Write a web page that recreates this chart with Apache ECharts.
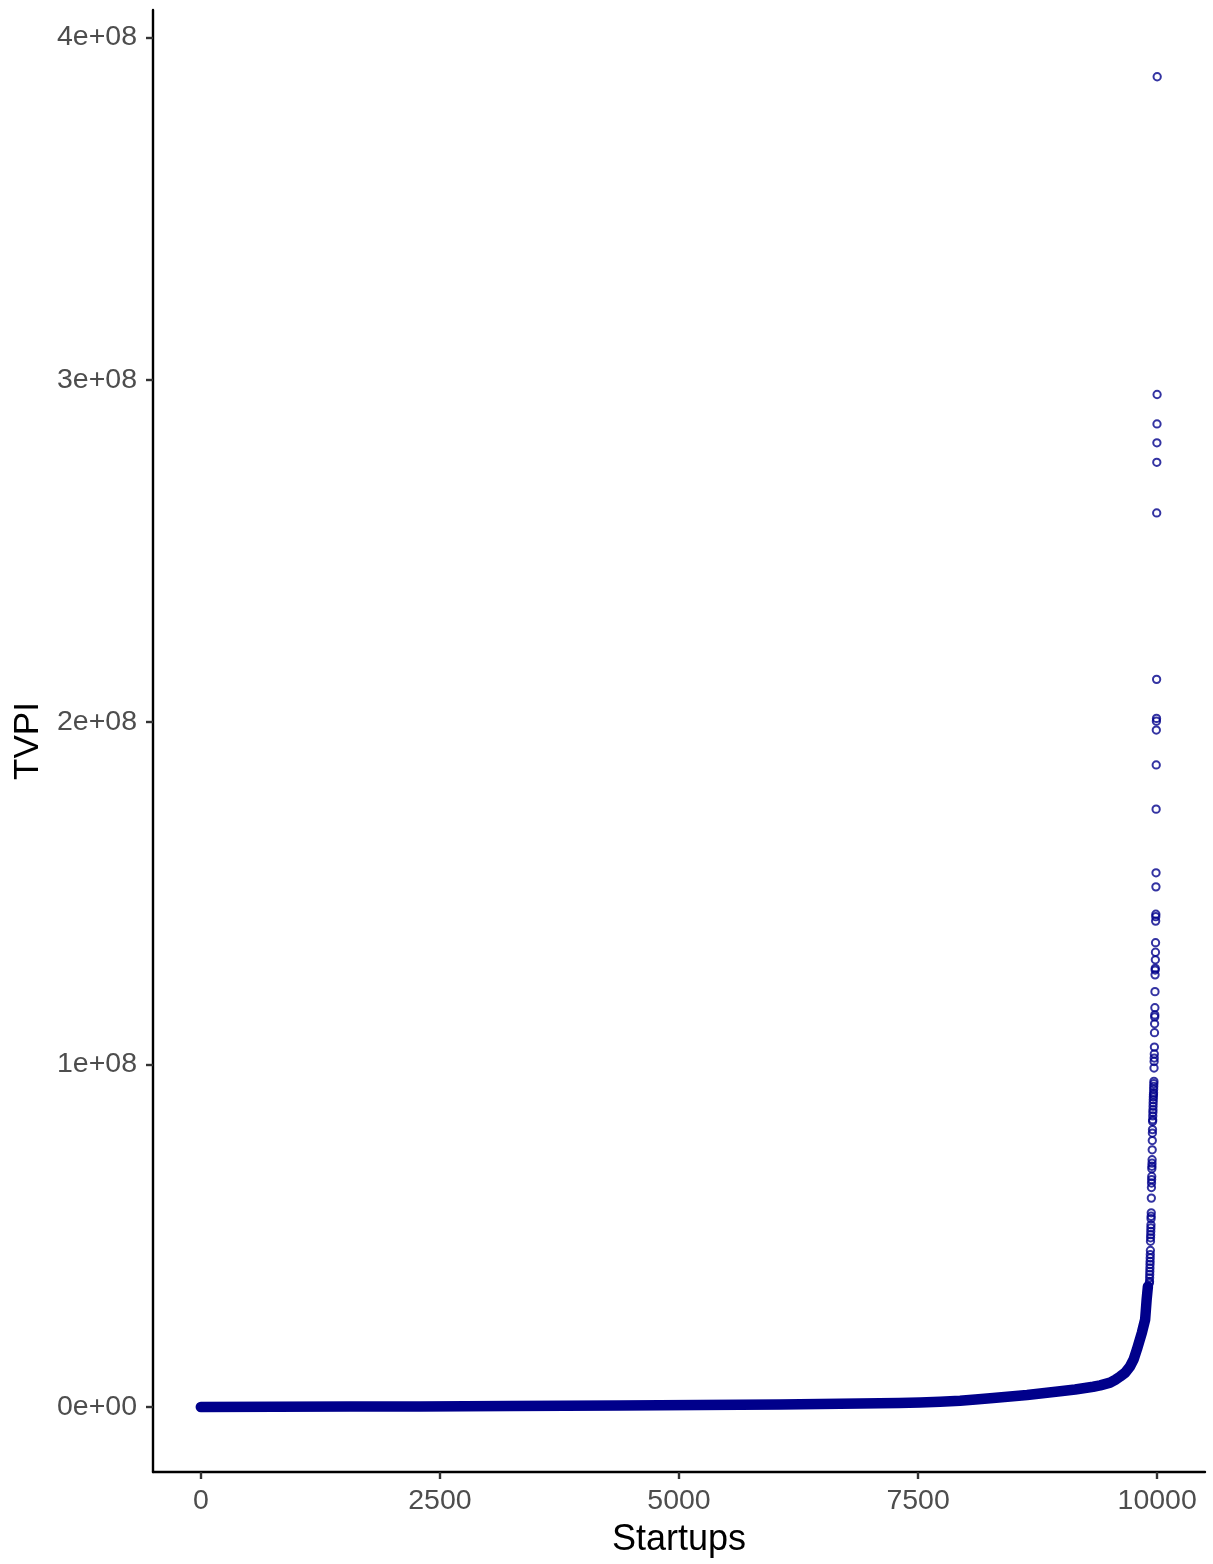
<!DOCTYPE html>
<html>
<head>
<meta charset="utf-8">
<script src="https://cdn.jsdelivr.net/npm/echarts@6/dist/echarts.min.js"></script>
<style>
html,body{margin:0;padding:0;background:#fff;}
#chart{width:1213px;height:1564px;}
</style>
</head>
<body>
<div id="chart"></div>
<script>
// Dense lower part of the sorted TVPI curve
const bandRank = [0, 1559, 2291, 3232, 4383, 5220, 6056, 6893, 7300, 7521, 7730, 7939, 8100, 8285, 8640, 8985, 9142, 9331, 9404, 9508, 9561, 9613, 9665, 9718, 9754, 9788, 9840, 9874, 9890, 9903];
const bandTVPI = [0, 1.0e5, 1.5e5, 3.0e5, 4.4e5, 5.8e5, 7.3e5, 1.0e6, 1.15e6, 1.3e6, 1.5e6, 1.8e6, 2.15e6, 2.6e6, 3.5e6, 4.6e6, 5.1e6, 5.9e6, 6.3e6, 7.1e6, 7.9e6, 8.9e6, 1.0e7, 1.19e7, 1.39e7, 1.68e7, 2.17e7, 2.55e7, 3.14e7, 3.52e7];

// Individually visible startups at the top of the distribution
const topRank = [10000, 9999, 9998, 9997, 9996, 9995, 9994, 9993, 9992, 9991,
  9990, 9989, 9988, 9987, 9986, 9985, 9984, 9983, 9982, 9981,
  9980, 9979, 9978, 9977, 9976, 9975, 9974, 9973, 9972, 9971,
  9970, 9969, 9968, 9967, 9966, 9965, 9964, 9963, 9962, 9961,
  9960, 9959, 9958, 9957, 9956, 9955, 9954, 9953, 9952, 9951,
  9950, 9949, 9948, 9947, 9946, 9945, 9944, 9943, 9942, 9941,
  9940, 9939, 9938, 9937, 9936, 9935, 9934, 9933, 9932, 9931,
  9930, 9929, 9928, 9927, 9926, 9925, 9924, 9923, 9922, 9921,
  9920, 9919];
const topTVPI = [3.885e8, 2.957e8, 2.871e8, 2.816e8, 2.759e8, 2.611e8, 2.125e8, 2.011e8, 2.003e8, 1.977e8,
  1.875e8, 1.746e8, 1.560e8, 1.519e8, 1.439e8, 1.432e8, 1.419e8, 1.356e8, 1.328e8, 1.306e8,
  1.281e8, 1.276e8, 1.262e8, 1.213e8, 1.166e8, 1.145e8, 1.139e8, 1.119e8, 1.093e8, 1.051e8,
  1.031e8, 1.019e8, 1.009e8, 0.990e8, 0.951e8, 0.944e8, 0.936e8, 0.928e8, 0.918e8, 0.912e8,
  0.905e8, 0.897e8, 0.888e8, 0.878e8, 0.868e8, 0.860e8, 0.850e8, 0.839e8, 0.834e8, 0.810e8,
  0.800e8, 0.778e8, 0.751e8, 0.722e8, 0.712e8, 0.703e8, 0.696e8, 0.673e8, 0.664e8, 0.654e8,
  0.641e8, 0.610e8, 0.567e8, 0.557e8, 0.550e8, 0.532e8, 0.523e8, 0.513e8, 0.503e8, 0.494e8,
  0.484e8, 0.457e8, 0.445e8, 0.435e8, 0.425e8, 0.416e8, 0.406e8, 0.396e8, 0.387e8, 0.377e8,
  0.367e8, 0.362e8];

const xTicks = [0, 2500, 5000, 7500, 10000];
const xTickLabels = ['0', '2500', '5000', '7500', '10000'];
const yTicks = [0, 1e8, 2e8, 3e8, 4e8];
const yTickLabels = ['0e+00', '1e+08', '2e+08', '3e+08', '4e+08'];

const FONT = '"Liberation Sans", Arial, Helvetica, sans-serif';
const chart = echarts.init(document.getElementById('chart'), null, {renderer: 'canvas'});

const bandData = bandRank.map((r, i) => [r, bandTVPI[i]]);
const topData = topRank.map((r, i) => [r, topTVPI[i]]);

function labelFor(ticks, labels) {
  return function (v) {
    for (let i = 0; i < ticks.length; i++) {
      if (Math.abs(ticks[i] - v) < 1e-6 * Math.max(1, Math.abs(v))) return labels[i];
    }
    return '';
  };
}

chart.setOption({
  animation: false,
  backgroundColor: '#ffffff',
  grid: {left: 153, right: 8, top: 10, bottom: 92, containLabel: false},
  xAxis: {
    type: 'value', min: -500, max: 10500,
    name: 'Startups', nameLocation: 'middle', nameGap: 50,
    nameTextStyle: {fontSize: 36, color: '#000000', fontFamily: FONT},
    axisLine: {show: true, onZero: false, lineStyle: {color: '#000000', width: 2.4}},
    axisTick: {show: true, length: 7, customValues: xTicks, lineStyle: {color: '#333333', width: 2.4}},
    axisLabel: {customValues: xTicks, formatter: labelFor(xTicks, xTickLabels), fontSize: 28.5, color: '#4D4D4D', fontFamily: FONT, margin: 15},
    splitLine: {show: false}
  },
  yAxis: {
    type: 'value', min: -1.9e7, max: 4.08e8,
    name: 'TVPI', nameLocation: 'middle', nameGap: 104, nameRotate: 90,
    nameTextStyle: {fontSize: 35, color: '#000000', fontFamily: FONT},
    axisLine: {show: true, onZero: false, lineStyle: {color: '#000000', width: 2.4}},
    axisTick: {show: true, length: 7, customValues: yTicks, lineStyle: {color: '#333333', width: 2.4}},
    axisLabel: {customValues: yTicks, formatter: labelFor(yTicks, yTickLabels), fontSize: 28.5, color: '#4D4D4D', fontFamily: FONT, margin: 16},
    splitLine: {show: false}
  },
  series: [
    {
      type: 'line', data: bandData, symbol: 'none', smooth: false,
      lineStyle: {color: '#00008B', width: 10.5, cap: 'round', join: 'round'},
      silent: true, z: 2
    },
    {
      type: 'scatter', data: topData, symbol: 'circle', symbolSize: 7.3,
      itemStyle: {color: 'rgba(0,0,0,0)', borderColor: '#00008B', borderWidth: 2},
      silent: true, z: 3
    }
  ]
});
</script>
</body>
</html>
